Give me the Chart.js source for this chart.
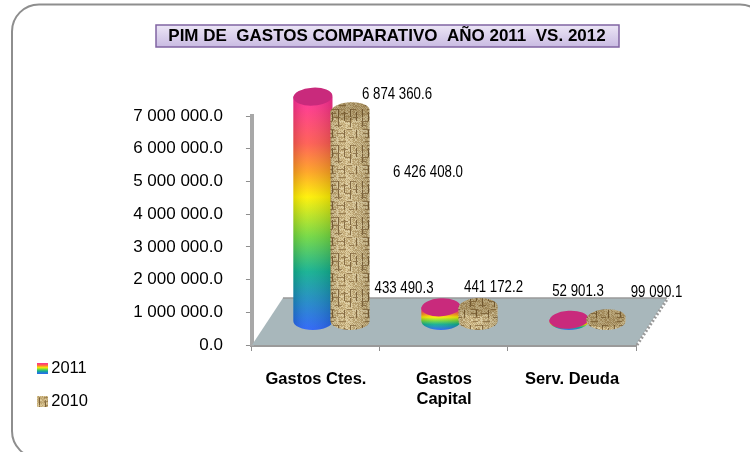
<!DOCTYPE html>
<html>
<head>
<meta charset="utf-8">
<style>
  html, body { margin: 0; padding: 0; background: #fff; }
  #wrap { width: 750px; height: 452px; }
</style>
<script src="https://cdn.jsdelivr.net/npm/chart.js@4"></script>
</head>
<body>
<div id="wrap"><canvas id="chart" width="750" height="452"></canvas></div>
<script>
const categories = ["Gastos Ctes.", ["Gastos", "Capital"], "Serv. Deuda"];
const values2011 = [6874360.6, 433490.3, 52901.3];
const values2010 = [6426408.0, 441172.2, 99090.1];
const seriesNames = ["2011", "2010"];
const chartTitle = "PIM DE  GASTOS COMPARATIVO  AÑO 2011  VS. 2012";

// floor depth of the fake 3D look
const depthX = 31, depthY = 47;

// where each value label sits, relative to its bar top (labels in the original are scattered)
const labelShift = [
  [[99.6, -26], [-21.4, -43], [24.6, -52]],
  [[93.4, 38], [31, -43], [66, -49]]
];

function formatNumber(value) {
  const parts = value.toFixed(1).split(".");
  return parts[0].replace(/\B(?=(\d{3})+(?!\d))/g, " ") + "." + parts[1];
}

// woven sack texture for the 2010 series
function makeBurlap() {
  const tile = document.createElement("canvas");
  tile.width = 36;
  tile.height = 36;
  const c = tile.getContext("2d");
  const tones = ["#d6c290", "#c6ad78", "#e0cfa2", "#b79d68"];
  for (let y = 0; y < 36; y++) {
    for (let x = 0; x < 36; x++) {
      c.fillStyle = tones[(x * 3 + y * 5 + (x * y) % 7) % 4];
      c.fillRect(x, y, 1, 1);
    }
  }
  // darker gaps: long vertical threads crossed by short horizontal ones
  c.fillStyle = "#7d6238";
  for (let x = 2; x < 36; x += 6) {
    const y0 = (x * 5) % 12;
    c.fillRect(x, y0, 1, 9);
    c.fillRect(x, (y0 + 18) % 27, 1, 8);
  }
  c.fillStyle = "#94784a";
  for (let y = 1; y < 36; y += 4) {
    const x0 = (y * 7) % 18;
    c.fillRect(x0, y, 7, 1);
    c.fillRect((x0 + 20) % 30, y, 5, 1);
  }
  return tile;
}

function rainbowStops(g) {
  g.addColorStop(0, "#ff2a9a");
  g.addColorStop(0.2, "#ff5a50");
  g.addColorStop(0.32, "#ffa020");
  g.addColorStop(0.43, "#fff000");
  g.addColorStop(0.6, "#70d840");
  g.addColorStop(0.75, "#10b090");
  g.addColorStop(1, "#2a62f8");
  return g;
}

function legendSwatch(kind, burlap) {
  const s = document.createElement("canvas");
  s.width = 11;
  s.height = 11;
  const c = s.getContext("2d");
  if (kind === 0) {
    c.fillStyle = rainbowStops(c.createLinearGradient(0, 0, 0, 11));
  } else {
    c.fillStyle = c.createPattern(burlap, "repeat");
  }
  c.fillRect(0, 0, 11, 11);
  return s;
}

const burlap = makeBurlap();

const framePlugin = {
  id: "frame",
  beforeDraw(chart) {
    const ctx = chart.ctx;
    ctx.save();
    ctx.fillStyle = "#fff";
    ctx.fillRect(0, 0, 750, 452);
    // the frame runs off the right and bottom edges
    ctx.strokeStyle = "#8e8e8e";
    ctx.lineWidth = 2;
    ctx.beginPath();
    ctx.roundRect(12, 4.5, 755, 453.5, 27);
    ctx.stroke();

    // title box
    const g = ctx.createLinearGradient(0, 25, 0, 47);
    g.addColorStop(0, "#ece6f6");
    g.addColorStop(1, "#c9bbe2");
    ctx.fillStyle = g;
    ctx.fillRect(156, 25, 463, 22);
    ctx.strokeStyle = "#8064a2";
    ctx.lineWidth = 1.5;
    ctx.strokeRect(156, 25, 463, 22);
    ctx.restore();
  },
  beforeDatasetsDraw(chart) {
    // gray floor under the bars
    const ctx = chart.ctx, a = chart.chartArea;
    ctx.save();
    ctx.fillStyle = "#a8b7bb";
    ctx.beginPath();
    ctx.moveTo(a.left, a.bottom);
    ctx.lineTo(a.right, a.bottom);
    ctx.lineTo(a.right + depthX, a.bottom - depthY);
    ctx.lineTo(a.left + depthX, a.bottom - depthY);
    ctx.closePath();
    ctx.fill();
    ctx.strokeStyle = "#9a9a9a";
    ctx.lineWidth = 1.5;
    ctx.beginPath();
    ctx.moveTo(a.left + depthX, a.bottom - depthY);
    ctx.lineTo(a.right + depthX, a.bottom - depthY);
    ctx.stroke();
    ctx.lineWidth = 3;
    ctx.setLineDash([2, 2]);
    ctx.beginPath();
    ctx.moveTo(a.right + 1, a.bottom);
    ctx.lineTo(a.right + depthX + 1, a.bottom - depthY);
    ctx.stroke();
    ctx.restore();
  },
  afterDatasetsDraw(chart) {
    chart.data.datasets.forEach((ds, d) => {
      chart.getDatasetMeta(d).data.forEach((bar) => drawCylinder(chart.ctx, bar, d));
    });
  },
  afterDraw(chart) {
    // value labels, squeezed sideways because no narrow font is around
    const ctx = chart.ctx;
    ctx.font = "17px 'Liberation Sans'";
    ctx.fillStyle = "#000";
    ctx.textAlign = "center";
    ctx.textBaseline = "middle";
    chart.data.datasets.forEach((ds, d) => {
      chart.getDatasetMeta(d).data.forEach((bar, i) => {
        const s = labelShift[d][i];
        ctx.save();
        ctx.translate(bar.x + s[0], bar.y + s[1]);
        ctx.scale(0.78, 1);
        ctx.fillText(formatNumber(ds.data[i]), 0, 0);
        ctx.restore();
      });
    });
  },
  afterLayout(chart) {
    // title box is centred on the frame, not on the plot
    chart.titleBlock.left += 56.5;
    chart.titleBlock.right += 56.5;
  }
};

function drawCylinder(ctx, bar, d) {
  const r = bar.width / 2 + 1;
  const ry = 9;
  const cx = bar.x + depthX / 2;
  const yb = bar.base - depthY / 2;
  const yt = bar.y - depthY / 2;
  ctx.save();
  ctx.beginPath();
  ctx.moveTo(cx - r, yt);
  ctx.lineTo(cx - r, yb);
  ctx.ellipse(cx, yb, r, ry, 0, Math.PI, 0, true);
  ctx.lineTo(cx + r, yt);
  ctx.closePath();
  if (d === 0) {
    ctx.fillStyle = rainbowStops(ctx.createLinearGradient(0, yt, 0, yb + ry));
  } else {
    ctx.fillStyle = ctx.createPattern(burlap, "repeat");
  }
  ctx.fill();
  const shade = ctx.createLinearGradient(cx - r, 0, cx + r, 0);
  shade.addColorStop(0, "rgba(0,0,0,0.12)");
  shade.addColorStop(0.35, "rgba(255,255,255,0.06)");
  shade.addColorStop(1, "rgba(0,0,0,0.14)");
  ctx.fillStyle = shade;
  ctx.fill();

  ctx.beginPath();
  ctx.ellipse(cx, yt, r, ry, -0.06, 0, Math.PI * 2);
  if (d === 0) {
    ctx.fillStyle = "#c92a7c";
  } else {
    ctx.fillStyle = ctx.createPattern(burlap, "repeat");
  }
  ctx.fill();
  if (d === 1) {
    ctx.fillStyle = "rgba(70,50,20,0.25)";
    ctx.fill();
  }
  ctx.restore();
}

new Chart(document.getElementById("chart"), {
  type: "bar",
  data: {
    labels: categories,
    datasets: [
      { label: seriesNames[0], data: values2011, backgroundColor: "transparent" },
      { label: seriesNames[1], data: values2010, backgroundColor: "transparent" }
    ]
  },
  options: {
    responsive: false,
    animation: false,
    categoryPercentage: 0.58,
    barPercentage: 1,
    layout: { padding: { left: 25, right: 114, top: 0, bottom: 25 } },
    plugins: {
      tooltip: { enabled: false },
      title: {
        display: true,
        text: chartTitle,
        color: "#000",
        font: { family: "'Liberation Sans'", size: 17, weight: "bold" },
        padding: { top: 26, bottom: 69.6 }
      },
      legend: {
        position: "left",
        align: "end",
        labels: {
          color: "#000",
          font: { family: "'Liberation Sans'", size: 16.5 },
          usePointStyle: true,
          pointStyleWidth: 1,
          padding: 17,
          generateLabels() {
            return seriesNames.map((name, i) => ({
              text: name,
              datasetIndex: i,
              pointStyle: legendSwatch(i, burlap)
            }));
          }
        }
      }
    },
    scales: {
      x: {
        border: { color: "#9a9a9a", width: 3 },
        grid: { drawOnChartArea: false, color: "#8e8e8e", tickLength: 6 },
        ticks: {
          color: "#000",
          font: { family: "'Liberation Sans'", size: 16.5, weight: "bold" },
          maxRotation: 0,
          autoSkip: false,
          padding: 19
        },
        afterFit(scale) { scale.height = 82; }
      },
      y: {
        min: 0,
        max: 7000000,
        border: { color: "#a8a8a8", width: 4 },
        grid: { drawOnChartArea: false, color: "#8e8e8e", tickLength: 6 },
        ticks: {
          stepSize: 1000000,
          color: "#000",
          font: { family: "'Liberation Sans'", size: 17 },
          padding: 23,
          callback(value) { return formatNumber(value); }
        },
        afterFit(scale) { scale.width = 154; }
      }
    }
  },
  plugins: [framePlugin]
});
</script>
</body>
</html>
